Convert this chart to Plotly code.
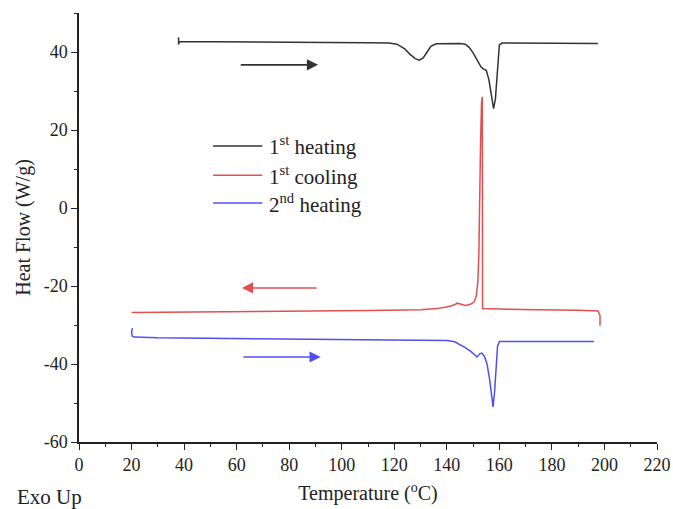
import plotly.graph_objects as go

# 1st heating (black)
heat1_T = [37.9, 37.9, 38.2, 50, 80, 110, 118, 121, 124, 126, 128, 129.5, 131, 132.5, 134, 136,
           140, 145, 147, 148.5, 150, 151.5, 153, 154, 155, 156, 157, 157.8, 158.5, 159, 159.5,
           160, 161, 180, 197.5]
heat1_Q = [43.8, 41.9, 42.7, 42.6, 42.5, 42.4, 42.3, 42.0, 40.8, 39.4, 38.3, 37.9, 38.5, 40.0, 41.5, 42.1,
           42.2, 42.2, 42.0, 41.2, 39.8, 38.0, 36.2, 35.6, 35.3, 33.0, 28.5, 25.5, 28.0, 33.0, 39.0,
           41.8, 42.3, 42.3, 42.2]

# 1st cooling (red), recorded from 200 down to 20
cool1_T = [198.3, 198.3, 197.5, 190, 175, 160, 153.6, 153.5, 153.2, 152.8, 152.5, 152.2, 151.8, 151.2,
           150.5, 149, 147, 145, 144, 143, 140, 136, 130, 110, 80, 50, 20]
cool1_Q = [-30.2, -27.5, -26.4, -26.2, -26.1, -25.9, -25.8, 28.5, 27.0, 15.0, 0.0, -12.0, -19.0, -22.5,
           -24.0, -24.7, -25.0, -24.7, -24.4, -24.8, -25.4, -25.8, -26.1, -26.3, -26.5, -26.7, -26.8]

# 2nd heating (blue)
heat2_T = [20.3, 20.0, 20.3, 21, 30, 60, 100, 130, 140, 143, 145, 147, 149, 150.5, 151.5, 152.5, 153.3,
           154.3, 155.3, 156.3, 157, 157.6, 158.2, 158.8, 159.3, 160, 170, 196]
heat2_Q = [-30.8, -32.0, -32.9, -33.1, -33.3, -33.5, -33.7, -33.9, -34.0, -34.3, -35.0, -35.8, -36.7, -37.6,
           -38.2, -37.4, -37.2, -38.0, -40.0, -44.0, -48.0, -51.0, -47.0, -40.0, -35.5, -34.2, -34.2, -34.2]

series_names = ["1<sup>st</sup> heating", "1<sup>st</sup> cooling", "2<sup>nd</sup> heating"]
series_colors = ["#333333", "#e05050", "#5050f0"]

x_ticks = [0, 20, 40, 60, 80, 100, 120, 140, 160, 180, 200, 220]
y_ticks = [-60, -40, -20, 0, 20, 40]
y_ticklabels = ["-60", "-40", "-20", "0", "20", "40"]

FONT = "Liberation Serif, Times New Roman, serif"

fig = go.Figure()
for T, Q, name, col in [(heat1_T, heat1_Q, series_names[0], series_colors[0]),
                        (cool1_T, cool1_Q, series_names[1], series_colors[1]),
                        (heat2_T, heat2_Q, series_names[2], series_colors[2])]:
    fig.add_trace(go.Scatter(x=T, y=Q, mode="lines", name=name, showlegend=False,
                             line=dict(color=col, width=1.5)))

# direction arrows
arrows = [(61, 36.7, 91, 36.7, series_colors[0]),
          (91, -20.5, 62, -20.5, series_colors[1]),
          (62, -38.2, 92, -38.2, series_colors[2])]
for x0, y0, x1, y1, col in arrows:
    fig.add_annotation(x=x1, y=y1, ax=x0, ay=y0, xref="x", yref="y", axref="x", ayref="y",
                       showarrow=True, arrowhead=2, arrowsize=1.4, arrowwidth=1.6,
                       arrowcolor=col, text="")

# legend drawn inside the plot (line sample + label)
leg_y = [0.690, 0.622, 0.557]
for name, col, ly in zip(series_names, series_colors, leg_y):
    fig.add_shape(type="line", xref="paper", yref="paper", x0=0.232, x1=0.317, y0=ly, y1=ly,
                  line=dict(color=col, width=1.5))
    fig.add_annotation(text=name, xref="paper", yref="paper", x=0.326, y=ly,
                       xanchor="left", yanchor="middle", showarrow=False,
                       font=dict(family=FONT, size=21, color="#222"))

fig.add_annotation(text="Exo Up", xref="paper", yref="paper", x=-0.111, y=-0.128,
                   xanchor="left", yanchor="middle", showarrow=False,
                   font=dict(family=FONT, size=21, color="#222"))

fig.update_layout(
    width=673, height=509,
    margin=dict(l=79, r=16, t=13, b=67),
    paper_bgcolor="white", plot_bgcolor="white",
    font=dict(family=FONT, size=18, color="#222"),
    showlegend=False,
    xaxis=dict(range=[0, 220], tickvals=x_ticks, showgrid=False, zeroline=False,
               showline=True, linecolor="#222", linewidth=1.5, automargin=False,
               ticks="outside", ticklen=6, tickwidth=1.3, tickcolor="#222",
               minor=dict(dtick=10, tick0=0, ticks="outside", ticklen=3, tickcolor="#222", tickwidth=1.3),
               title=dict(text="Temperature (<sup>o</sup>C)", standoff=12,
                          font=dict(family=FONT, size=20))),
    yaxis=dict(range=[-60, 50], tickvals=y_ticks, ticktext=y_ticklabels, showgrid=False, zeroline=False,
               showline=True, linecolor="#222", linewidth=1.5, automargin=False,
               ticks="outside", ticklen=6, tickwidth=1.3, tickcolor="#222",
               minor=dict(dtick=10, tick0=0, ticks="outside", ticklen=3, tickcolor="#222", tickwidth=1.3),
               title=dict(text="Heat Flow (W/g)", standoff=8,
                          font=dict(family=FONT, size=20))),
)

fig.write_html("out.html")
